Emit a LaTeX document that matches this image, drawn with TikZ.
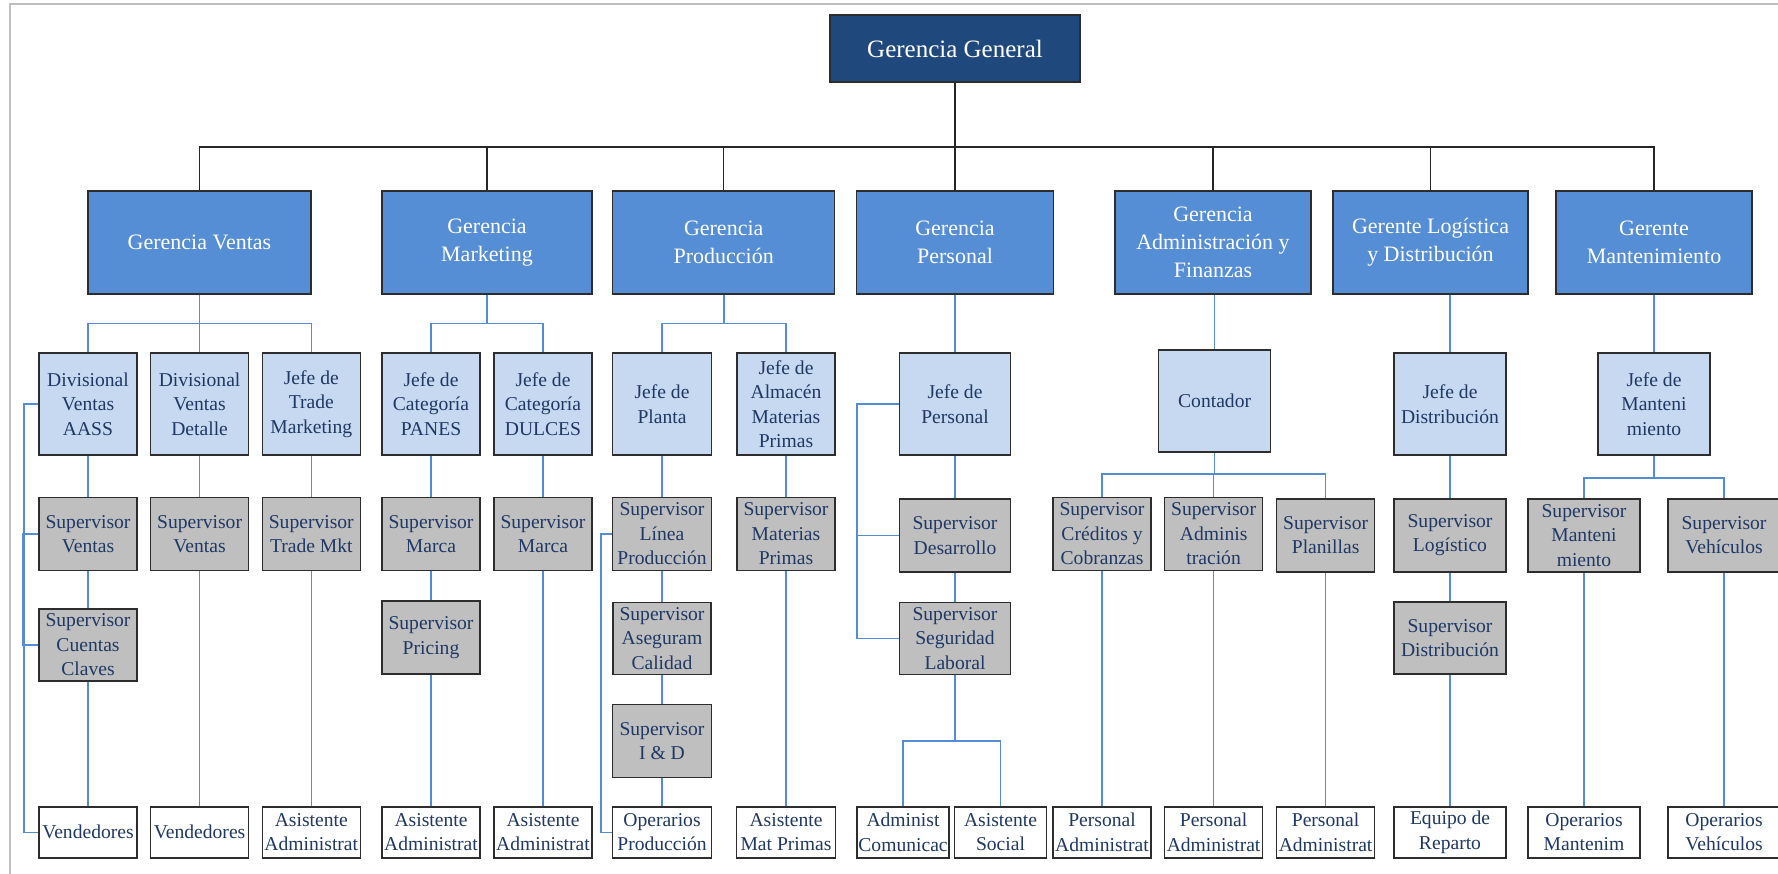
\documentclass[tikz,border=0pt]{standalone}
\usepackage{fontspec}
\setmainfont{Liberation Serif}
\usetikzlibrary{positioning,calc}

\definecolor{azulosc}{RGB}{31,73,125}
\definecolor{azulmed}{RGB}{85,142,213}
\definecolor{celeste}{RGB}{198,217,241}
\definecolor{gris}{RGB}{191,191,191}
\definecolor{borde}{RGB}{45,45,45}
\definecolor{linea}{RGB}{84,141,212}
\definecolor{letra}{RGB}{31,56,100}
\definecolor{marco}{RGB}{190,190,190}

\tikzstyle{caja}=[draw=borde, line width=1.5pt, inner sep=0pt, align=center,
               text=letra, font=\fontsize{19.6}{24.4}\selectfont]
\tikzstyle{general}=[caja, fill=azulosc, text=white, minimum width=250,
               minimum height=67, font=\fontsize{25}{30}\selectfont]
\tikzstyle{gerencia}=[caja, fill=azulmed, text=white, minimum height=103,
               font=\fontsize{22}{27.6}\selectfont]
\tikzstyle{jefe}=[caja, fill=celeste, minimum width=98, minimum height=102]
\tikzstyle{superv}=[caja, fill=gris, minimum width=98, minimum height=73]
\tikzstyle{puesto}=[caja, fill=white, minimum width=98, minimum height=51]
\tikzstyle{enlace}=[draw=linea, line width=1.6pt]
\tikzstyle{mando}=[draw=black!85, line width=1.5pt]

\begin{document}
\begin{tikzpicture}[x=1pt,y=-1pt]
\useasboundingbox (0,0) rectangle (1778,874);
\draw[marco, line width=2pt] (10,874) -- (10,4) -- (1778,4);

\node[general] (gg) at (955,48.5) {Gerencia General};

\node[gerencia, minimum width=223] (gv) at (199.5,242.3) {Gerencia Ventas};
\node[gerencia, minimum width=210] (gm) at (487,242.3) {Gerencia\\Marketing};
\node[gerencia, minimum width=222] (gp) at (723.7,242.3) {Gerencia\\Producción};
\node[gerencia, minimum width=197] (gper) at (955,242.3) {Gerencia\\Personal};
\node[gerencia, minimum width=196] (gaf) at (1213,242.3) {Gerencia\\Administración y\\Finanzas};
\node[gerencia, minimum width=195] (glog) at (1430.5,242.3) {Gerente Logística\\y Distribución};
\node[gerencia, minimum width=196] (gman) at (1654,242.3) {Gerente\\Mantenimiento};

\node[jefe] (divaass) at (88,404) {Divisional\\Ventas\\AASS};
\node[jefe] (divdet) at (199.6,404) {Divisional\\Ventas\\Detalle};
\node[jefe] (jtrade) at (311.3,404) {Jefe de\\Trade\\Marketing};
\node[jefe] (jpanes) at (431,404) {Jefe de\\Categoría\\PANES};
\node[jefe] (jdulces) at (543,404) {Jefe de\\Categoría\\DULCES};
\node[jefe, minimum width=99] (jplanta) at (662,404) {Jefe de\\Planta};
\node[jefe] (jalmacen) at (786,404) {Jefe de\\Almacén\\Materias\\Primas};
\node[jefe, minimum width=111] (jpersonal) at (955,404) {Jefe de\\Personal};
\node[jefe, minimum width=112] (contador) at (1214.6,401) {Contador};
\node[jefe, minimum width=112] (jdist) at (1450,404) {Jefe de\\Distribución};
\node[jefe, minimum width=112] (jmant) at (1654,404) {Jefe de\\Manteni\\miento};

\node[superv] (supv1) at (88,534) {Supervisor\\Ventas};
\node[superv] (supv2) at (199.6,534) {Supervisor\\Ventas};
\node[superv] (suptrade) at (311.3,534) {Supervisor\\Trade Mkt};
\node[superv] (supmarca1) at (431,534) {Supervisor\\Marca};
\node[superv] (supmarca2) at (543,534) {Supervisor\\Marca};
\node[superv, minimum width=99] (suplinea) at (662,534) {Supervisor\\Línea\\Producción};
\node[superv] (supmat) at (786,534) {Supervisor\\Materias\\Primas};
\node[superv, minimum width=111] (supdes) at (955,535.5) {Supervisor\\Desarrollo};
\node[superv] (supcred) at (1102,534) {Supervisor\\Créditos y\\Cobranzas};
\node[superv] (supadm) at (1213.6,534) {Supervisor\\Adminis\\tración};
\node[superv] (supplan) at (1325.6,535.3) {Supervisor\\Planillas};
\node[superv, minimum width=112] (suplog) at (1450,535.3) {Supervisor\\Logístico};
\node[superv, minimum width=112] (supmant) at (1584,535.3) {Supervisor\\Manteni\\miento};
\node[superv, minimum width=112] (supveh) at (1724,535.3) {Supervisor\\Vehículos};

\node[superv, minimum height=72] (supcc) at (88,645) {Supervisor\\Cuentas\\Claves};
\node[superv] (suppricing) at (431,637.5) {Supervisor\\Pricing};
\node[superv, minimum height=72] (supcal) at (662,638.3) {Supervisor\\Aseguram\\Calidad};
\node[superv, minimum width=111, minimum height=72] (supseg) at (955,638.3) {Supervisor\\Seguridad\\Laboral};
\node[superv, minimum width=112, minimum height=72] (supdist) at (1450,638) {Supervisor\\Distribución};
\node[superv, minimum width=99] (supid) at (662,741) {Supervisor\\I \& D};

\node[puesto] (vend1) at (88,832.3) {Vendedores};
\node[puesto] (vend2) at (199.6,832.3) {Vendedores};
\node[puesto] (asis1) at (311.3,832.3) {Asistente\\Administrat};
\node[puesto] (asis2) at (431,832.3) {Asistente\\Administrat};
\node[puesto] (asis3) at (543,832.3) {Asistente\\Administrat};
\node[puesto, minimum width=99] (operprod) at (662,832.3) {Operarios\\Producción};
\node[puesto, minimum width=99] (asismat) at (786,832.3) {Asistente\\Mat Primas};
\node[puesto, minimum width=92] (admcom) at (903,832.3) {Administ\\Comunicac};
\node[puesto, minimum width=92] (asissoc) at (1000.5,832.3) {Asistente\\Social};
\node[puesto] (pers1) at (1102,832.3) {Personal\\Administrat};
\node[puesto] (pers2) at (1213.6,832.3) {Personal\\Administrat};
\node[puesto] (pers3) at (1325.6,832.3) {Personal\\Administrat};
\node[puesto, minimum width=112] (equipo) at (1450,832.3) {Equipo de\\Reparto};
\node[puesto, minimum width=112] (opmant) at (1584,832.3) {Operarios\\Mantenim};
\node[puesto, minimum width=112] (opveh) at (1724,832.3) {Operarios\\Vehículos};

\draw[mando] (gg.south) -- (955,147) coordinate (bus);
\foreach \g in {gv,gm,gp,gper,gaf,glog,gman}
  \draw[mando] (bus) -| (\g.north);

\foreach \j in {divaass,divdet,jtrade}
  \draw[enlace] (gv.south) -- ++(0,29) -| (\j.north);
\foreach \j in {jpanes,jdulces}
  \draw[enlace] (gm.south) -- ++(0,29) -| (\j.north);
\foreach \j in {jplanta,jalmacen}
  \draw[enlace] (gp.south) -- ++(0,29) -| (\j.north);
\draw[enlace] (gper.south) -- (jpersonal.north);
\draw[enlace] (contador.north |- gaf.south) -- (contador.north);
\draw[enlace] (jdist.north |- glog.south) -- (jdist.north);
\draw[enlace] (gman.south) -- (jmant.north);

\foreach \a/\b in {divaass/supv1, divdet/supv2, jtrade/suptrade, jpanes/supmarca1,
    jdulces/supmarca2, jplanta/suplinea, jalmacen/supmat, jpersonal/supdes,
    jdist/suplog, supv1/supcc, supmarca1/suppricing, suplinea/supcal,
    supcal/supid, supdes/supseg, suplog/supdist, supcc/vend1, supv2/vend2,
    suptrade/asis1, suppricing/asis2, supmarca2/asis3, supid/operprod,
    supmat/asismat, supcred/pers1, supadm/pers2, supplan/pers3,
    supdist/equipo, supmant/opmant, supveh/opveh}
  \draw[enlace] (\a.south) -- (\b.north);

\foreach \s in {supcred,supadm,supplan}
  \draw[enlace] (contador.south) -- ++(0,21.5) -| (\s.north);
\foreach \s in {supmant,supveh}
  \draw[enlace] (jmant.south) -- ++(0,22) -| (\s.north);
\foreach \p in {admcom,asissoc}
  \draw[enlace] (supseg.south) -- ++(0,66) -| (\p.north);

\draw[enlace] (divaass.west) -- ++(-14,0) |- (vend1.west);
\draw[enlace] (supv1.west) -- ++(-15,0) |- (supcc.west);
\draw[enlace] (jpersonal.west) -- ++(-42,0) |- (supdes.west);
\draw[enlace] (jpersonal.west) -- ++(-42,0) |- (supseg.west);
\draw[enlace] (suplinea.west) -- ++(-10.6,0) |- (operprod.west);
\end{tikzpicture}
\end{document}
